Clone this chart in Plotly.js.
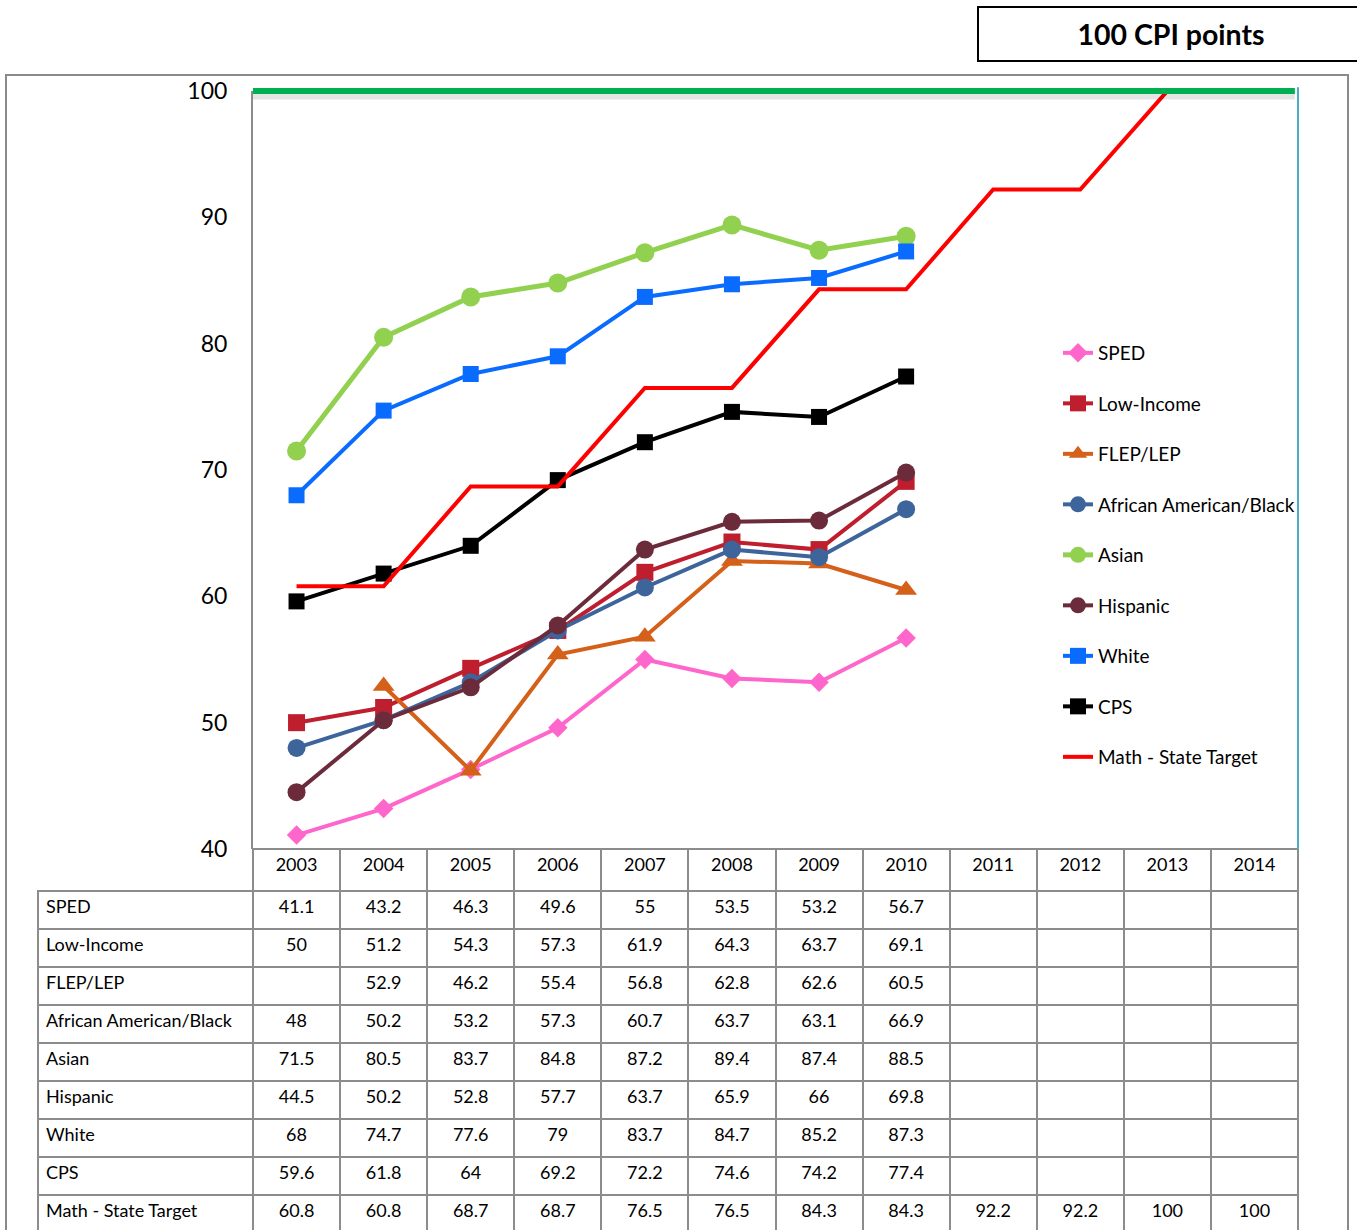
<!DOCTYPE html>
<html>
<head>
<meta charset="utf-8">
<script src="https://cdn.plot.ly/plotly-3.0.1.min.js"></script>
<style>
html, body { margin: 0; padding: 0; overflow: hidden; background: #fff; }
#chart { width: 1357px; height: 1260px; }
</style>
</head>
<body>
<div id="chart"></div>
<script>
// ---- data ----
const years = ['2003','2004','2005','2006','2007','2008','2009','2010','2011','2012','2013','2014'];
const seriesNames = ['SPED','Low-Income','FLEP/LEP','African American/Black','Asian','Hispanic','White','CPS','Math - State Target'];
const sped      = [41.1, 43.2, 46.3, 49.6, 55, 53.5, 53.2, 56.7];
const lowIncome = [50, 51.2, 54.3, 57.3, 61.9, 64.3, 63.7, 69.1];
const flep      = [null, 52.9, 46.2, 55.4, 56.8, 62.8, 62.6, 60.5];
const black     = [48, 50.2, 53.2, 57.3, 60.7, 63.7, 63.1, 66.9];
const asian     = [71.5, 80.5, 83.7, 84.8, 87.2, 89.4, 87.4, 88.5];
const hispanic  = [44.5, 50.2, 52.8, 57.7, 63.7, 65.9, 66, 69.8];
const white     = [68, 74.7, 77.6, 79, 83.7, 84.7, 85.2, 87.3];
const cps       = [59.6, 61.8, 64, 69.2, 72.2, 74.6, 74.2, 77.4];
const target    = [60.8, 60.8, 68.7, 68.7, 76.5, 76.5, 84.3, 84.3, 92.2, 92.2, 100, 100];
const boxTitle = '100 CPI points';

const allValues = [sped, lowIncome, flep, black, asian, hispanic, white, cps, target];

// ---- styles ----
const styles = [
  {color:'#ff66cc', symbol:'diamond', size:15, width:4},
  {color:'#be1e2d', symbol:'square', size:17, width:4},
  {color:'#d4601a', symbol:'triangle-up', size:19, width:4},
  {color:'#3d659c', symbol:'circle', size:18, width:4},
  {color:'#92d050', symbol:'circle', size:19, width:5},
  {color:'#6b2b3b', symbol:'circle', size:18, width:4},
  {color:'#0a6cff', symbol:'square', size:16, width:4},
  {color:'#000000', symbol:'square', size:16, width:4},
  {color:'#ff0000', symbol:null, size:0, width:4}
];

// ---- geometry (pixels) ----
const W = 1357, H = 1260;
const mL = 38, mR = W - 1298, mT = 91, mB = 15;
const paperW = W - mL - mR, paperH = H - mT - mB;
const plotLeft = 253, plotBottom = 849;
const xDomStart = (plotLeft - mL) / paperW;
const yDomStart = (H - mB - plotBottom) / paperH;
const px2x = p => (p - mL) / paperW;
const px2y = p => (H - mB - p) / paperH;

const FONT = 'Lato, "Open Sans", sans-serif';
const gray = '#8c8c8c';

const traces = seriesNames.map((name, i) => {
  const s = styles[i];
  const vals = allValues[i];
  const t = {
    type: 'scatter',
    x: years.slice(0, vals.length),
    y: vals,
    name: name,
    legendgroup: 'g' + i,
    mode: s.symbol ? 'lines+markers' : 'lines',
    line: {color: s.color, width: s.width},
    connectgaps: false,
    xaxis: 'x', yaxis: 'y'
  };
  if (s.symbol) t.marker = {symbol: s.symbol, size: s.size, color: s.color, line: {width: 0}};
  return t;
});

// ---- table ----
const nCols = years.length;
const colW = (1298 - plotLeft) / nCols;
const tableCols = [seriesNames];
for (let c = 0; c < nCols; c++) {
  tableCols.push(allValues.map(v => (v[c] === undefined || v[c] === null) ? '' : String(v[c])));
}
const headerLineColors = [ 'rgba(0,0,0,0)' ].concat(years.map(() => gray));
const headerFill = [ 'rgba(0,0,0,0)' ].concat(years.map(() => '#ffffff'));
traces.push({
  type: 'table',
  domain: {x: [0, 1], y: [0, yDomStart]},
  columnwidth: [plotLeft - mL].concat(years.map(() => colW)),
  header: {
    values: [''].concat(years),
    height: 42,
    align: 'center',
    fill: {color: headerFill},
    line: {color: headerLineColors, width: 2},
    font: {family: FONT, size: 18, color: '#000'}
  },
  cells: {
    values: tableCols,
    height: 38,
    align: ['left'].concat(years.map(() => 'center')),
    fill: {color: '#ffffff'},
    line: {color: gray, width: 2},
    font: {family: FONT, size: 18, color: '#000'}
  }
});

const layout = {
  width: W, height: H,
  margin: {l: mL, r: mR, t: mT, b: mB, pad: 0},
  paper_bgcolor: '#ffffff',
  plot_bgcolor: '#ffffff',
  font: {family: FONT, color: '#000'},
  showlegend: true,
  xaxis: {
    type: 'category',
    domain: [xDomStart, 1],
    range: [-0.5, nCols - 0.5],
    showticklabels: false,
    showgrid: false, zeroline: false,
    showline: false, ticks: ''
  },
  yaxis: {
    domain: [yDomStart, 1],
    range: [40, 100],
    dtick: 10,
    tick0: 40,
    showgrid: false, zeroline: false,
    showline: true, linecolor: gray, linewidth: 2,
    ticks: 'outside', ticklen: 0,
    ticklabelstandoff: 19,
    tickfont: {family: FONT, size: 23, color: '#000'}
  },
  legend: {
    x: px2x(1058), xanchor: 'left',
    y: px2y(334), yanchor: 'top',
    bgcolor: 'rgba(0,0,0,0)',
    font: {family: FONT, size: 19, color: '#000'},
    tracegroupgap: 22.8,
    itemwidth: 30,
    traceorder: 'grouped'
  },
  shapes: [
    // outer chart frame
    {type: 'rect', xref: 'paper', yref: 'paper', x0: px2x(6), x1: px2x(1348), y0: px2y(1300), y1: px2y(75),
     line: {color: '#8a8a8a', width: 2}, fillcolor: 'rgba(0,0,0,0)', layer: 'below'},
    // right plot border
    {type: 'line', xref: 'x domain', yref: 'y domain', x0: 1, x1: 1, y0: 0, y1: 1.005,
     line: {color: '#4bacc6', width: 2}},
    // goal line shadow
    {type: 'line', xref: 'x domain', yref: 'y domain', ysizemode: 'pixel', yanchor: 1, y0: -5, y1: -5,
     x0: 0, x1: 0.997, line: {color: 'rgba(0,0,0,0.10)', width: 7}},
    // goal line at 100 (top of y range)
    {type: 'line', xref: 'x domain', yref: 'y domain', x0: 0, x1: 0.997, y0: 1, y1: 1,
     line: {color: '#00b050', width: 6}}
  ],
  annotations: [
    {xref: 'paper', yref: 'paper', x: px2x(1171), y: px2y(34), xanchor: 'center', yanchor: 'middle',
     text: '<b>' + boxTitle + '</b>', showarrow: false,
     width: 384, height: 52, borderwidth: 2, bordercolor: '#000', bgcolor: '#fff', borderpad: 0,
     font: {family: FONT, size: 28.5, color: '#000'}}
  ]
};

Plotly.newPlot('chart', traces, layout, {displayModeBar: false, staticPlot: true});
</script>
</body>
</html>
